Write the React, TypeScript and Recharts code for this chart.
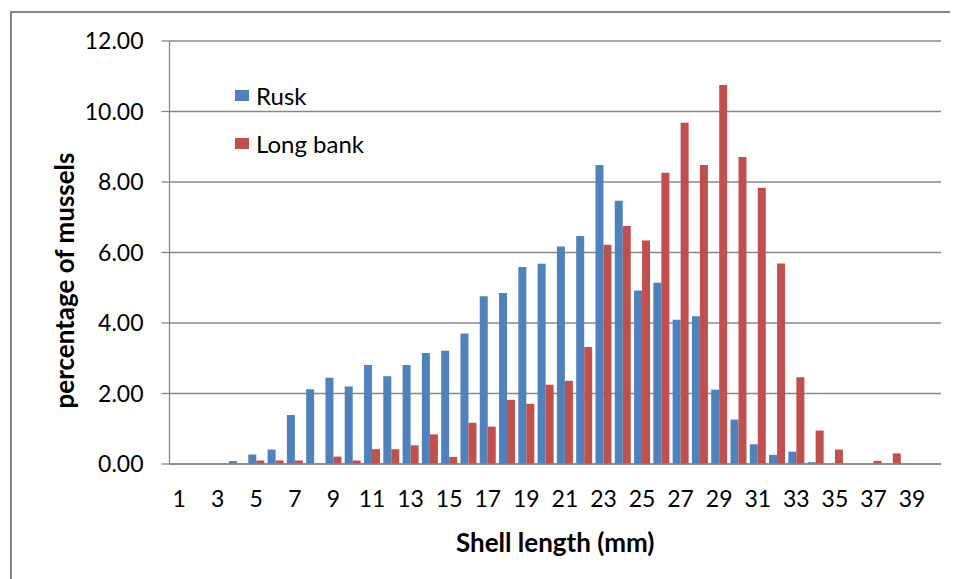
import { BarChart, Bar, XAxis, YAxis, CartesianGrid, Legend } from "recharts";

const lengths = [
  1, 2, 3, 4, 5, 6, 7, 8, 9, 10, 11, 12, 13, 14, 15, 16, 17, 18, 19, 20,
  21, 22, 23, 24, 25, 26, 27, 28, 29, 30, 31, 32, 33, 34, 35, 36, 37, 38, 39, 40,
];

const rusk = [
  0, 0, 0, 0.08, 0.27, 0.41, 1.39, 2.12, 2.45, 2.2, 2.81, 2.49, 2.81, 3.15, 3.21, 3.7, 4.76, 4.85, 5.59, 5.68,
  6.17, 6.47, 8.48, 7.47, 4.92, 5.14, 4.09, 4.19, 2.11, 1.26, 0.56, 0.26, 0.35, 0.05, 0, 0, 0, 0, 0, 0,
];

const longBank = [
  0, 0, 0, 0, 0.1, 0.1, 0.1, 0, 0.21, 0.1, 0.42, 0.42, 0.53, 0.84, 0.2, 1.17, 1.06, 1.82, 1.71, 2.25,
  2.36, 3.32, 6.22, 6.75, 6.34, 8.26, 9.68, 8.48, 10.75, 8.71, 7.84, 5.69, 2.46, 0.95, 0.41, 0, 0.09, 0.3, 0, 0,
];

const seriesNames = ["Rusk", "Long bank"];
const yTicks = [0, 2, 4, 6, 8, 10, 12];

const data = lengths.map((len, i) => ({ len, rusk: rusk[i], longBank: longBank[i] }));

const FONT = "Lato, 'Open Sans', sans-serif";
const GRAY = "#878787";

function LegendBox({ payload }: any) {
  // keep the series order (recharts sorts legend items by name otherwise)
  const items = [...(payload || [])].sort(
    (a: any, b: any) => seriesNames.indexOf(a.value) - seriesNames.indexOf(b.value)
  );
  return (
    <div style={{ fontFamily: FONT, fontSize: 24, color: "#000" }}>
      {items.map((p: any) => (
        <div key={p.value} style={{ display: "flex", alignItems: "center", height: 48 }}>
          <span style={{ display: "inline-block", width: 14, height: 11, background: p.color, marginRight: 7 }} />
          <span>{p.value}</span>
        </div>
      ))}
    </div>
  );
}

function YTitle({ viewBox }: any) {
  const cx = viewBox.x + 56;
  const cy = viewBox.y + viewBox.height / 2 + 28;
  return (
    <text
      x={cx}
      y={cy}
      transform={`rotate(-90, ${cx}, ${cy})`}
      textAnchor="middle"
      dominantBaseline="central"
      fontFamily={FONT}
      fontSize={26}
      fontWeight="bold"
      fill="#000"
    >
      percentage of mussels
    </text>
  );
}

export default function App() {
  return (
    <div style={{ position: "relative", width: 950, height: 571 }}>
      <div
        style={{
          position: "absolute",
          left: 2,
          top: 3,
          width: 948,
          height: 568,
          borderLeft: `2px solid ${GRAY}`,
          borderTop: `2px solid ${GRAY}`,
          boxSizing: "border-box",
        }}
      />
      <BarChart
        width={950}
        height={571}
        data={data}
        margin={{ top: 33, right: 17, left: 0, bottom: 0 }}
        barCategoryGap={1.65}
        barGap={0}
        style={{ position: "absolute", left: 0, top: 0 }}
      >
        <CartesianGrid vertical={false} stroke={GRAY} strokeWidth={1.3} />
        <XAxis
          dataKey="len"
          interval={1}
          height={115}
          tickLine={false}
          tickSize={0}
          tickMargin={27}
          axisLine={{ stroke: GRAY, strokeWidth: 1.3 }}
          tick={{ fill: "#000", fontSize: 23, fontFamily: FONT }}
          label={{
            value: "Shell length (mm)",
            position: "insideBottom",
            offset: 27,
            fill: "#000",
            fontSize: 26,
            fontWeight: "bold",
            fontFamily: FONT,
          }}
        />
        <YAxis
          width={161.5}
          domain={[0, 12]}
          ticks={yTicks}
          tickFormatter={(v: number) => v.toFixed(2)}
          tickSize={8}
          tickMargin={18}
          tickLine={{ stroke: GRAY, strokeWidth: 1.3 }}
          axisLine={{ stroke: GRAY, strokeWidth: 1.3 }}
          tick={{ fill: "#000", fontSize: 23, fontFamily: FONT }}
          label={<YTitle />}
        />
        <Legend
          layout="vertical"
          align="center"
          verticalAlign="middle"
          content={<LegendBox />}
          wrapperStyle={{ left: 227, top: 63, width: 200 }}
        />
        <Bar dataKey="rusk" name="Rusk" fill="#4F81BD" isAnimationActive={false} />
        <Bar dataKey="longBank" name="Long bank" fill="#C0504D" isAnimationActive={false} />
      </BarChart>
    </div>
  );
}
